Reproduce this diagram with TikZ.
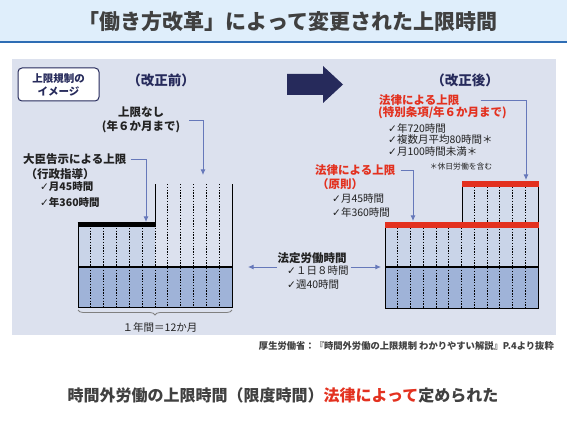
\documentclass[tikz,border=0pt]{standalone}
\usepackage{fontspec}
\setmainfont{Noto Sans CJK JP}
\newfontfamily\symfont{DejaVu Sans}
\usetikzlibrary{arrows.meta,decorations.pathreplacing}
\definecolor{band}{HTML}{DFEEFB}
\definecolor{bandline}{HTML}{2E6DB4}
\definecolor{panel}{HTML}{DCE1EE}
\definecolor{navy}{HTML}{262A5B}
\definecolor{lawred}{HTML}{E3311F}
\definecolor{conn}{HTML}{6678BA}
\definecolor{lowfill}{HTML}{9FB3D8}
\definecolor{midfill}{HTML}{C9D4E8}
\definecolor{topfill}{HTML}{D2DBEB}
\definecolor{ink}{HTML}{222222}
\definecolor{titlegray}{HTML}{404040}
\newcommand{\chk}{{\symfont\char"2713}}
\tikzset{
  hd/.style={font=\bfseries\fontsize{13.5}{16}\selectfont, text=navy, inner sep=0pt},
  lbl/.style={font=\bfseries\fontsize{11.5}{14}\selectfont, text=ink, inner sep=0pt},
  redlbl/.style={lbl, text=lawred},
  item/.style={font=\fontsize{10.5}{12}\selectfont, text=ink, inner sep=0pt, anchor=west},
  bolditem/.style={item, font=\bfseries\fontsize{10.5}{12}\selectfont},
  arrowline/.style={draw=conn, line width=0.9pt, -{Latex[length=2mm,width=1.8mm]}},
  chart/.style={draw=black, line width=1pt},
  month/.style={draw=black, line width=1pt, dash pattern=on 1.4pt off 1.4pt},
}

\begin{document}
\begin{tikzpicture}[x=1pt,y=-1pt]
  \useasboundingbox (0,0) rectangle (567,425);
  % title band
  \fill[band] (0,0) rectangle (567,41);
  \draw[bandline, line width=1.6pt] (0,42) -- (567,42);
  \node[font=\bfseries\fontsize{21}{24}\selectfont, text=titlegray] (title) at (288,22) {「働き方改革」によって変更された上限時間};
  % panel
  \fill[panel] (12,59) rectangle (556,335);
  \node[draw=navy, line width=1pt, fill=white, rounded corners=4pt, minimum width=81, minimum height=33,
        align=center, inner sep=1pt, font=\bfseries\fontsize{10.5}{13}\selectfont, text=navy] (image) at (58.5,84.5) {上限規制の\\イメージ};
  \node[hd] (before) at (161,80) {（改正前）};
  \node[hd] (after) at (465,80) {（改正後）};
  \fill[navy] (287,74) -- (323,74) -- (323,66) -- (343,84.5) -- (323,103) -- (323,95) -- (287,95) -- cycle;

  % before: chart
  \fill[midfill] (78,225) rectangle (155,267);
  \fill[lowfill] (78,267) rectangle (232,307);
  \foreach \k in {1,...,6} \draw[month] ({78+154/12*\k},225) -- ({78+154/12*\k},307);
  \foreach \k in {7,...,11} \draw[month] ({78+154/12*\k},184) -- ({78+154/12*\k},307);
  \draw[chart] (78,225) -- (78,307) -- (232,307) -- (232,184);
  \draw[chart] (155,184) -- (155,225);
  \draw[chart, line width=1.4pt] (78,267) -- (232,267);
  \draw[line width=5pt] (77.5,224.5) -- (155.5,224.5);
  \draw[decorate, decoration={brace, amplitude=5pt}, draw=gray, line width=0.8pt] (232,310) -- (78,310);
  \node[font=\fontsize{10.5}{12}\selectfont, text=ink] (year) at (160,327) {１年間＝12か月};
  \coordinate (t-nolim) at (203,175);
  \coordinate (t-admin) at (146,222);

  % before: labels
  \node[lbl, align=center] (nolim) at (141,120) {上限なし\\(年６か月まで)};
  \node[lbl, anchor=west] (admin) at (23,159) {大臣告示による上限};
  \node[lbl] (admin2) at (60,174) {（行政指導）};
  \node[bolditem] (adm45) at (40,187) {\chk 月45時間};
  \node[bolditem] (adm360) at (40,202) {\chk 年360時間};
  \draw[arrowline] ([xshift=9pt]nolim.east) -| (t-nolim);
  \draw[arrowline] ([xshift=4pt]admin.east) -| (t-admin);

  % statutory hours
  \node[lbl] (std) at (312,258) {法定労働時間};
  \node[item] (std1) at (287,271) {\chk １日８時間};
  \node[item] (std2) at (287,285) {\chk 週40時間};
  \coordinate (l-tip) at (248,267);
  \coordinate (r-tip) at (381,267);
  \draw[arrowline] ([shift={(-10,-4)}]std1.west) -- (l-tip);
  \draw[arrowline] ([shift={(2,-4)}]std1.east) -- (r-tip);

  % after: chart
  \fill[topfill] (462,184) rectangle (538,225);
  \fill[midfill] (385,225) rectangle (538,267);
  \fill[lowfill] (385,267) rectangle (538,308);
  \foreach \k in {1,...,6} \draw[month] ({385+153/12*\k},225) -- ({385+153/12*\k},308);
  \foreach \k in {7,...,11} \draw[month] ({385+153/12*\k},184) -- ({385+153/12*\k},308);
  \draw[chart] (385,225) -- (385,308) -- (538,308) -- (538,184);
  \draw[chart] (462,184) -- (462,225);
  \draw[chart, line width=1.4pt] (385,267) -- (538,267);
  \draw[lawred, line width=6pt] (385,225) -- (538.5,225);
  \draw[lawred, line width=6pt] (462,184) -- (538.5,184);
  \coordinate (t-special) at (526,180);
  \coordinate (t-basic) at (413,221);

  % after: labels
  \node[redlbl, anchor=west] (special) at (379,100) {法律による上限};
  \node[redlbl, anchor=west] (special2) at (378,113) {(特別条項/年６か月まで)};
  \node[item] (sp720) at (388,128) {\chk 年720時間};
  \node[item] (sp80) at (388,140) {\chk 複数月平均80時間＊};
  \node[item] (sp100) at (388,152) {\chk 月100時間未満＊};
  \node[font=\fontsize{7.8}{9}\selectfont, text=ink, inner sep=0pt] (holiday) at (461,167) {＊休日労働を含む};
  \node[redlbl, anchor=west] (basic) at (315,170) {法律による上限};
  \node[redlbl] (basic2) at (340,184) {（原則）};
  \node[item] (b45) at (332,199) {\chk 月45時間};
  \node[item] (b360) at (332,212) {\chk 年360時間};
  \draw[arrowline] ([xshift=21pt]special.east) -| (t-special);
  \draw[arrowline] ([xshift=5pt]basic.east) -| (t-basic);

  % source and conclusion
  \node[anchor=east, font=\bfseries\fontsize{9.3}{11}\selectfont, text=titlegray, inner sep=0pt] (source) at (554,346) {厚生労働省：『時間外労働の上限規制 わかりやすい解説』P.4より抜粋};
  \node[font=\bfseries\fontsize{16}{19}\selectfont, text=titlegray] (concl) at (283,395) {時間外労働の上限時間（限度時間）\textcolor{lawred}{法律によって}定められた};
\end{tikzpicture}
\end{document}
